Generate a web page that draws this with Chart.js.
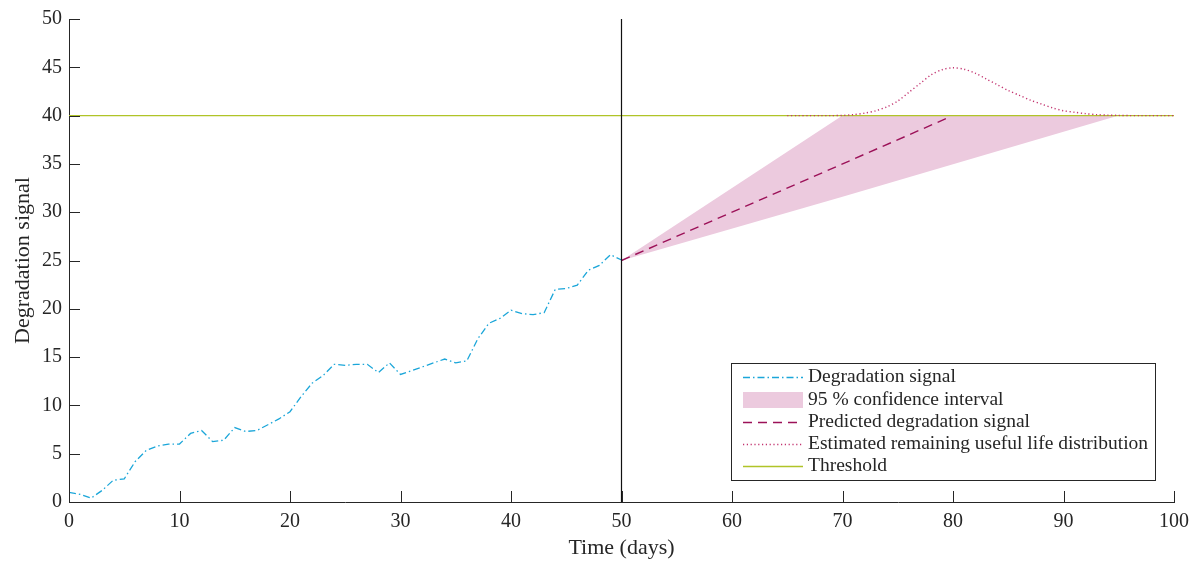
<!DOCTYPE html>
<html>
<head>
<meta charset="utf-8">
<script src="https://cdn.jsdelivr.net/npm/chart.js@4"></script>
<style>
html,body{margin:0;padding:0;background:#fff;}
#wrap{width:1199px;height:563px;}
</style>
</head>
<body>
<div id="wrap"><canvas id="c" width="1199" height="563"></canvas></div>
<script>
// ---- data ----
const signalDays = [0,1,2,3,4,5,6,7,8,9,10,11,12,13,14,15,16,17,18,19,20,21,22,23,24,25,26,27,28,29,30,31,32,33,34,35,36,37,38,39,40,41,42,43,44,45,46,47,48,49,50];
const signalValues = [1.0,0.8,0.4,1.2,2.25,2.4,4.2,5.35,5.8,6.0,6.0,7.1,7.4,6.25,6.4,7.7,7.3,7.4,8.0,8.6,9.35,10.9,12.3,13.1,14.25,14.15,14.25,14.25,13.4,14.4,13.2,13.6,14.0,14.4,14.8,14.4,14.6,16.9,18.5,19.0,19.85,19.5,19.4,19.6,22.0,22.1,22.45,24.0,24.5,25.6,25.05];
const predDays = [50, 79.5];
const predValues = [25, 39.75];
const bandDays = [50, 70, 95];
const bandUpper = [25, 40, 40];
const bandLower = [25, 31.6, 40];
const rulDays = [65,66,67,68,69,70,71,72,73,74,75,76,77,78,79,80,81,82,83,84,85,86,87,88,89,90,91,92,93,94,95,96,97,98,99,100];
const rulValues = [40.0,40.0,40.0,40.0,40.0,40.02,40.1,40.25,40.5,40.9,41.5,42.4,43.3,44.2,44.75,44.95,44.8,44.4,43.8,43.2,42.6,42.1,41.6,41.2,40.8,40.5,40.35,40.2,40.1,40.05,40.02,40.0,40.0,40.0,40.0,40.0];
const thresholdDays = [0, 100];
const thresholdValues = [40, 40];
const nowDays = [50, 50];
const nowValues = [0, 50];
const xTicks = [0,10,20,30,40,50,60,70,80,90,100];
const yTicks = [0,5,10,15,20,25,30,35,40,45,50];
const legendLabels = ['Degradation signal','95 % confidence interval','Predicted degradation signal','Estimated remaining useful life distribution','Threshold'];

const C_SIGNAL = '#1ba6d9';
const C_BAND = 'rgba(236,202,222,1)';
const C_PRED = '#9c1158';
const C_RUL = '#c2336f';
const C_THR = '#b0c428';
const C_AXIS = '#262626';
const FONT = '"Liberation Serif", "DejaVu Serif", serif';

const pts = (xs, ys) => xs.map((x, i) => ({x: x, y: ys[i]}));

const inwardTicks = {
  id: 'inwardTicks',
  afterDatasetsDraw(chart) {
    const {ctx, chartArea: a, scales: {x, y}} = chart;
    ctx.save();
    ctx.strokeStyle = C_AXIS;
    ctx.lineWidth = 1;
    ctx.beginPath();
    xTicks.forEach(v => { const px = Math.round(x.getPixelForValue(v)) + 0.5; ctx.moveTo(px, a.bottom); ctx.lineTo(px, a.bottom - 11); });
    yTicks.forEach(v => { const py = Math.round(y.getPixelForValue(v)) + 0.5; ctx.moveTo(a.left, py); ctx.lineTo(a.left + 11, py); });
    ctx.stroke();
    ctx.restore();
  }
};

const boxLegend = {
  id: 'boxLegend',
  afterDraw(chart) {
    const ctx = chart.ctx;
    const bx = 731.5, by = 363.5, bw = 424, bh = 117;
    ctx.save();
    ctx.fillStyle = '#fff';
    ctx.fillRect(bx, by, bw, bh);
    ctx.strokeStyle = C_AXIS;
    ctx.lineWidth = 1;
    ctx.strokeRect(bx, by, bw, bh);
    const rows = [377, 400, 422, 444, 466];
    const x0 = 743, x1 = 803, tx = 808;
    const styles = [
      {c: C_SIGNAL, d: [7,3,1.5,3], w: 1.3},
      null,
      {c: C_PRED, d: [9,6], w: 1.4},
      {c: C_RUL, d: [1.2,2.6], w: 1.4},
      {c: C_THR, d: [], w: 1.3}
    ];
    rows.forEach((ry, i) => {
      const s = styles[i];
      if (s) {
        ctx.beginPath();
        ctx.setLineDash(s.d);
        ctx.strokeStyle = s.c;
        ctx.lineWidth = s.w;
        ctx.moveTo(x0, ry + 0.5);
        ctx.lineTo(x1, ry + 0.5);
        ctx.stroke();
        ctx.setLineDash([]);
      } else {
        ctx.fillStyle = C_BAND;
        ctx.fillRect(x0, ry - 8, x1 - x0, 16);
      }
      ctx.fillStyle = '#262626';
      ctx.font = '19.5px ' + FONT;
      ctx.textBaseline = 'middle';
      ctx.textAlign = 'left';
      ctx.fillText(legendLabels[i], tx, ry);
    });
    ctx.restore();
  }
};

new Chart(document.getElementById('c'), {
  type: 'line',
  data: {
    datasets: [
      {label: 'lower', data: pts(bandDays, bandLower), borderWidth: 0, borderColor: 'rgba(0,0,0,0)', pointRadius: 0, fill: false, order: 6},
      {label: legendLabels[1], data: pts(bandDays, bandUpper), borderWidth: 0, borderColor: 'rgba(0,0,0,0)', backgroundColor: C_BAND, pointRadius: 0, fill: '-1', order: 5},
      {label: legendLabels[4], data: pts(thresholdDays, thresholdValues), borderColor: C_THR, borderWidth: 1.3, pointRadius: 0, fill: false, order: 4},
      {label: legendLabels[3], data: pts(rulDays, rulValues), borderColor: C_RUL, borderWidth: 1.4, borderDash: [1.2, 2.6], pointRadius: 0, fill: false, tension: 0.3, order: 3},
      {label: legendLabels[2], data: pts(predDays, predValues), borderColor: C_PRED, borderWidth: 1.4, borderDash: [9, 6], pointRadius: 0, fill: false, order: 2},
      {label: legendLabels[0], data: pts(signalDays, signalValues), borderColor: C_SIGNAL, borderWidth: 1.3, borderDash: [7, 3, 1.5, 3], pointRadius: 0, fill: false, order: 1},
      {label: 'now', data: pts(nowDays, nowValues), borderColor: '#111', borderWidth: 1.2, pointRadius: 0, fill: false, order: 0}
    ]
  },
  options: {
    responsive: false,
    animation: false,
    layout: {padding: {left: 0, right: 25, top: 12, bottom: 0}},
    plugins: {legend: {display: false}, tooltip: {enabled: false}},
    scales: {
      x: {
        type: 'linear', min: 0, max: 100,
        afterBuildTicks: s => { s.ticks = xTicks.map(v => ({value: v})); },
        afterFit: s => { s.height = 61; },
        grid: {display: true, drawOnChartArea: false, drawTicks: false},
        border: {display: true, color: C_AXIS, width: 1},
        ticks: {color: '#262626', font: {family: FONT, size: 20}, padding: 8, maxRotation: 0},
        title: {display: true, text: 'Time (days)', color: '#262626', font: {family: FONT, size: 22}, padding: {top: 0, bottom: 2}}
      },
      y: {
        type: 'linear', min: 0, max: 50,
        afterBuildTicks: s => { s.ticks = yTicks.map(v => ({value: v})); },
        afterFit: s => { s.width = 69; },
        grid: {display: true, drawOnChartArea: false, drawTicks: false},
        border: {display: true, color: C_AXIS, width: 1},
        ticks: {color: '#262626', font: {family: FONT, size: 20}, padding: 7},
        title: {display: true, text: 'Degradation signal', color: '#262626', font: {family: FONT, size: 22}, padding: {top: 10, bottom: 0}}
      }
    }
  },
  plugins: [inwardTicks, boxLegend]
});
</script>
</body>
</html>
